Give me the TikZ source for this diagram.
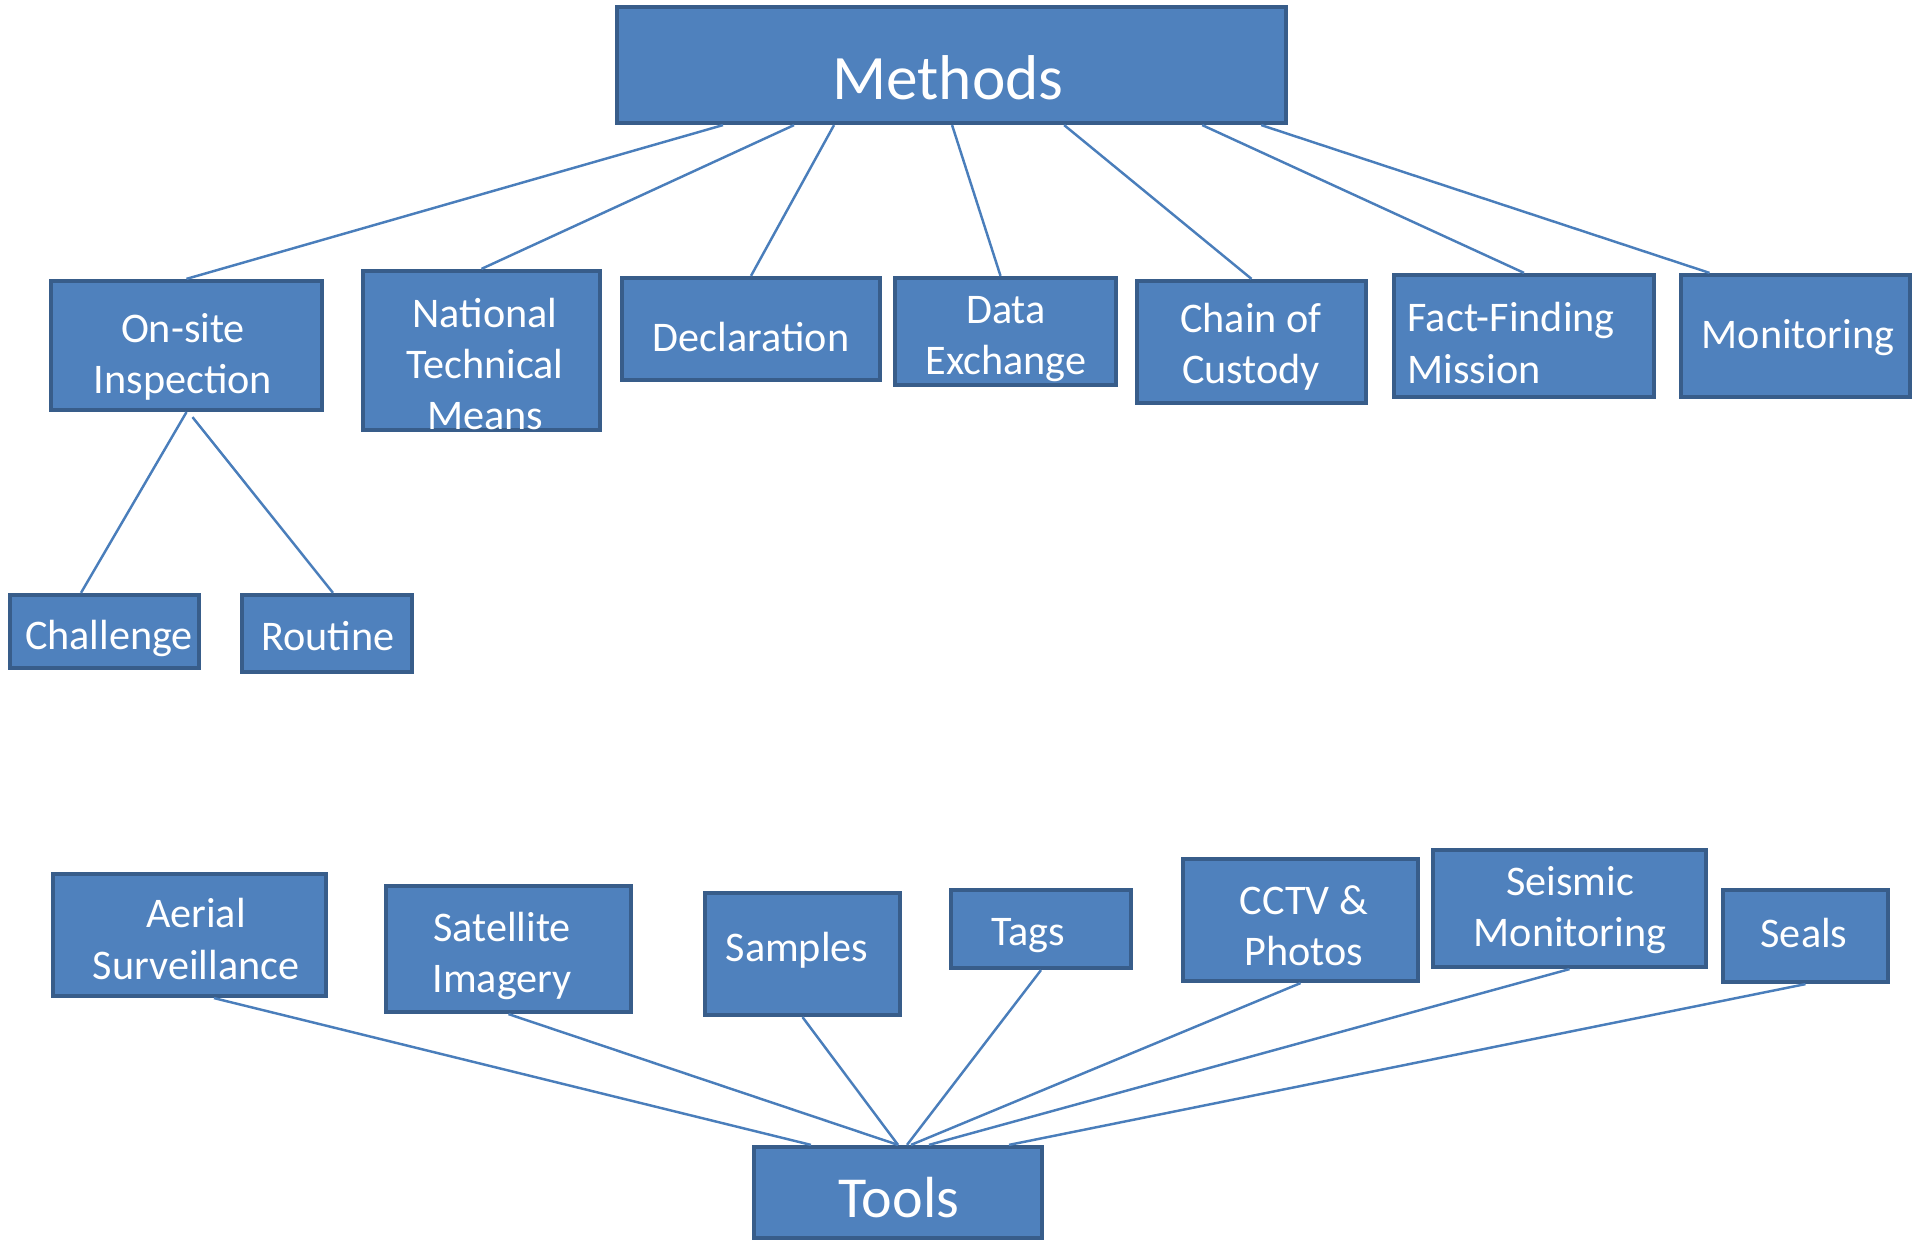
\documentclass[tikz,border=0pt]{standalone}
\usepackage{fontspec}
\setmainfont{Carlito}
\usetikzlibrary{calc}
\definecolor{boxfill}{HTML}{4F81BD}
\definecolor{boxline}{HTML}{385D8A}
\definecolor{connc}{HTML}{4A7EBB}
\newcommand\mybox[5]{\node[box, minimum width=#4*0.01cm, minimum height=#5*0.01cm] (#1) at (#2,#3) {};}
\begin{document}
\begin{tikzpicture}[x=0.01cm,y=-0.01cm,
  box/.style={draw=boxline, fill=boxfill, line width=1.2pt, rectangle, inner sep=0pt},
  lbl/.style={text=white, font=\fontsize{12}{14.6}\selectfont, align=center, inner sep=0pt},
  biglbl/.style={text=white, font=\fontsize{18}{21}\selectfont, align=center, inner sep=0pt},
  conn/.style={draw=connc, line width=0.7pt}]
\useasboundingbox (0,0) rectangle (1917,1240);
% boxes
\mybox{methods}{951.5}{65}{669}{116}
\mybox{onsite}{186.5}{345.5}{271}{129}
\mybox{ntm}{481.5}{350.5}{237}{159}
\mybox{decl}{751}{329}{258}{102}
\mybox{dataex}{1005.5}{331.5}{221}{107}
\mybox{chain}{1251.5}{342}{229}{122}
\mybox{ffm}{1524}{336}{260}{122}
\mybox{monit}{1795.5}{336}{229}{122}
\mybox{chall}{104.5}{631.5}{189}{73}
\mybox{routine}{327}{633.5}{170}{77}
\mybox{aerial}{189.5}{935}{273}{122}
\mybox{satel}{508.5}{949}{245}{126}
\mybox{samples}{802.5}{954}{195}{122}
\mybox{tags}{1041}{929}{180}{78}
\mybox{cctv}{1300.5}{920}{235}{122}
\mybox{seismic}{1569.5}{908.5}{273}{117}
\mybox{seals}{1805.5}{936}{165}{92}
\mybox{tools}{898}{1192.5}{288}{91}
% connectors: methods
\draw[conn] ([xshift=1.08cm]methods.south west) -- (onsite.north);
\draw[conn] ([xshift=1.79cm]methods.south west) -- (ntm.north);
\draw[conn] ([xshift=2.19cm]methods.south west) -- (decl.north);
\draw[conn] ([xshift=3.37cm]methods.south west) -- ([xshift=-0.05cm]dataex.north);
\draw[conn] ([xshift=4.49cm]methods.south west) -- (chain.north);
\draw[conn] ([xshift=5.87cm]methods.south west) -- (ffm.north);
\draw[conn] ([xshift=6.46cm]methods.south west) -- ([xshift=-0.86cm]monit.north);
% on-site
\draw[conn] (onsite.south) -- ([xshift=-0.235cm]chall.north);
\draw[conn] ([xshift=0.06cm,yshift=-0.05cm]onsite.south) -- ([xshift=0.06cm]routine.north);
% tools
\draw[conn] ([xshift=0.245cm]aerial.south) -- ([xshift=0.59cm]tools.north west);
\draw[conn] (satel.south) -- (tools.north);
\draw[conn] (samples.south) -- (tools.north);
\draw[conn] (tags.south) -- ([xshift=0.09cm]tools.north);
\draw[conn] (cctv.south) -- ([xshift=0.13cm]tools.north);
\draw[conn] (seismic.south) -- ([xshift=0.31cm]tools.north);
\draw[conn] (seals.south) -- ([xshift=1.11cm]tools.north);
% texts
\node[biglbl] (methodsT) at (948,78) {Methods};
\node[lbl] (onsiteT) at (183,357) {On-site\\Inspection};
\node[lbl] (ntmT) at (485,364) {National\\Technical\\Means};
\node[lbl] (declT) at (751,337) {Declaration};
\node[lbl] (dataexT) at (1006,339) {Data\\Exchange};
\node[lbl] (chainT) at (1251,347) {Chain of\\Custody};
\node[lbl, align=left, anchor=west] (ffmT) at (1407,343) {Fact-Finding\\Mission};
\node[lbl] (monitT) at (1798,338) {Monitoring};
\node[lbl] (challT) at (109,638) {Challenge};
\node[lbl] (routineT) at (328,636) {Routine};
\node[lbl] (aerialT) at (196,939) {Aerial\\Surveillance};
\node[lbl] (satelT) at (502,956) {Satellite\\Imagery};
\node[lbl] (samplesT) at (797,950) {Samples};
\node[lbl] (tagsT) at (1028,936) {Tags};
\node[lbl] (cctvT) at (1304,926) {CCTV \&\\Photos};
\node[lbl] (seismicT) at (1570,910) {Seismic\\Monitoring};
\node[lbl] (sealsT) at (1804,933) {Seals};
\node[biglbl, font=\fontsize{16.5}{20}\selectfont] (toolsT) at (899,1198) {Tools};
\end{tikzpicture}
\end{document}
